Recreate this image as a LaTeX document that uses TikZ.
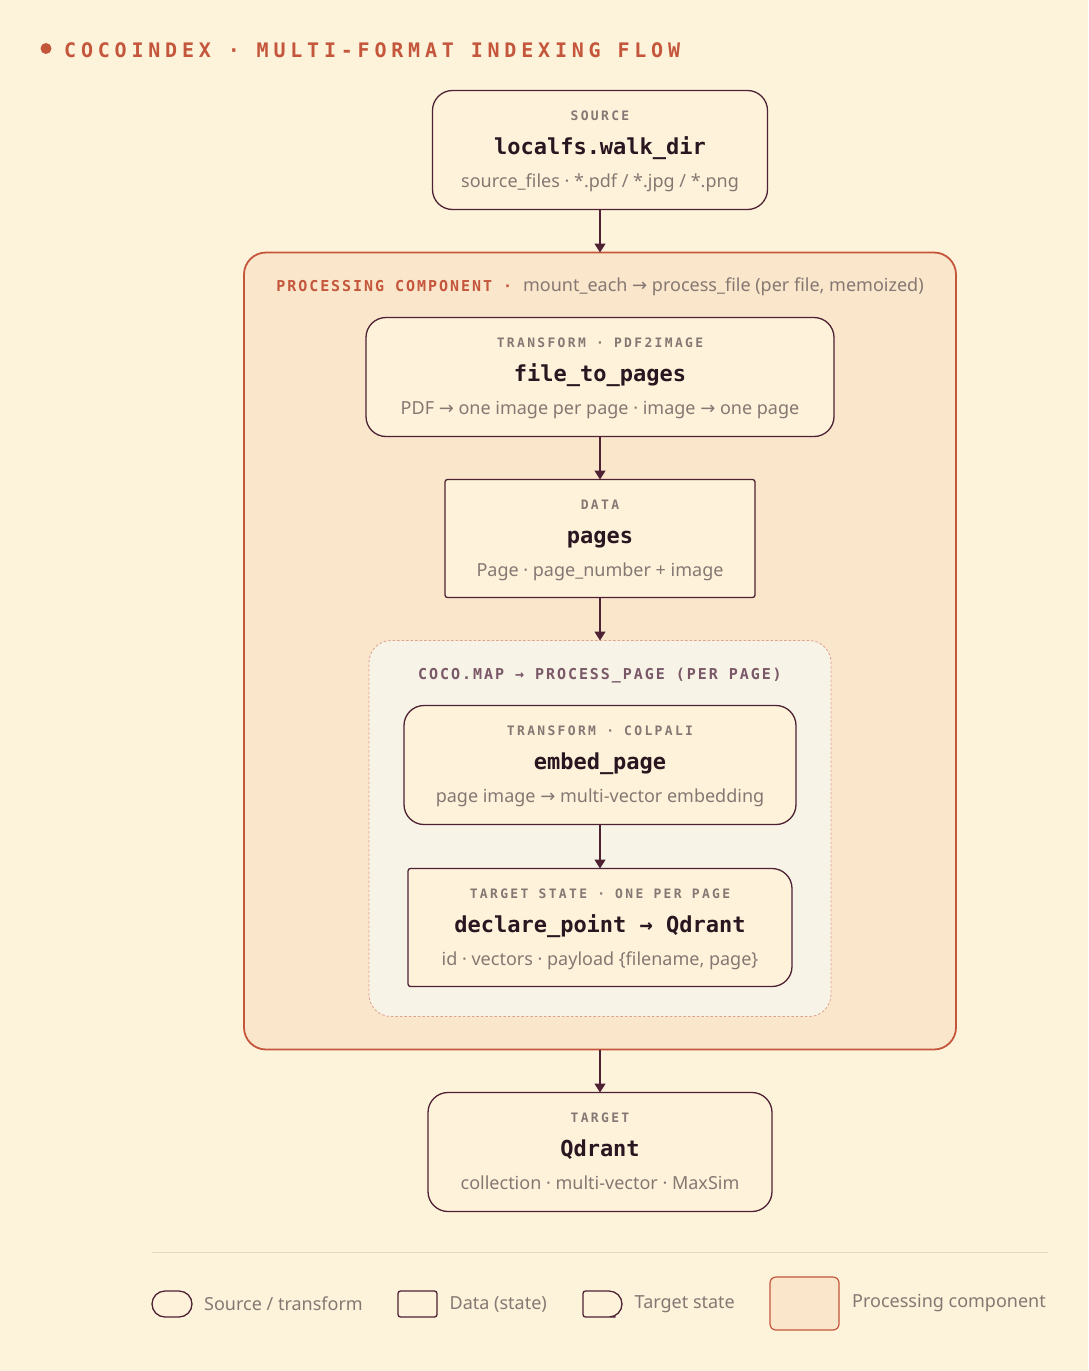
\documentclass[tikz,border=0pt]{standalone}
\usepackage{fontspec}
\setmainfont{Noto Sans}
\setmonofont{DejaVu Sans Mono}
\newfontfamily\arrfont{DejaVu Sans}
\usetikzlibrary{arrows.meta,positioning}
\definecolor{bgc}{HTML}{FDF3DB}
\definecolor{procfill}{HTML}{FAE6CB}
\definecolor{procline}{HTML}{C4563C}
\definecolor{boxfill}{HTML}{FEF3DA}
\definecolor{boxline}{HTML}{4E2234}
\definecolor{mapfill}{HTML}{F7F3E7}
\definecolor{mapline}{HTML}{E0A08C}
\definecolor{lblgray}{HTML}{857874}
\definecolor{subgray}{HTML}{857873}
\definecolor{ttlc}{HTML}{2A1620}
\definecolor{maphdr}{HTML}{7A5868}
\definecolor{rulec}{HTML}{E3D6BF}
\newcommand{\arr}{{\arrfont →}}
\newcommand{\titlefont}{\fontsize{20}{24}\ttfamily\bfseries\addfontfeature{LetterSpace=24}}
\newcommand{\hdrfont}{\fontsize{15}{18}\ttfamily\bfseries\addfontfeature{LetterSpace=13}}
\newcommand{\lblfont}{\fontsize{13}{15}\ttfamily\bfseries\addfontfeature{LetterSpace=18}}
\newcommand{\ttlfont}{\fontsize{22}{26}\ttfamily\bfseries}
\newcommand{\subfont}{\fontsize{18}{21}\selectfont}
\tikzstyle{flowbox}=[draw=boxline,fill=boxfill,line width=1.3pt,inner sep=0pt,outer sep=0pt]
\tikzstyle{tbox}=[flowbox,rounded corners=20pt,minimum height=119pt]
\tikzstyle{dbox}=[flowbox,rounded corners=2.5pt,minimum height=118pt]
\tikzstyle{sbox}=[inner sep=0pt,outer sep=0pt,minimum height=118pt]
\tikzstyle{procbox}=[draw=procline,fill=procfill,line width=1.8pt,rounded corners=22pt,inner sep=0pt,outer sep=0pt]
\tikzstyle{mapbox}=[draw=mapline,fill=mapfill,line width=0.8pt,dash pattern=on 2.5pt off 2pt,rounded corners=22pt,inner sep=0pt,outer sep=0pt]
\tikzstyle{arrow}=[-{Triangle[length=9pt,width=11pt]},line width=1.5pt,draw=boxline,fill=boxline]
\tikzstyle{blbl}=[anchor=base,inner sep=0pt,text=lblgray,font=\lblfont]
\tikzstyle{bttl}=[anchor=base,inner sep=0pt,text=ttlc,font=\ttlfont]
\tikzstyle{bsub}=[anchor=base,inner sep=0pt,text=subgray,font=\subfont]
\tikzstyle{legtext}=[inner sep=0pt,text=subgray,font=\subfont]
% outline with square left and round right corners
\newcommand{\stateoutline}[2]{%
  \filldraw[draw=boxline,fill=boxfill,line width=1.3pt] (#1.north) [rounded corners=#2] -- (#1.north east) -- (#1.south east) -- (#1.south)
    [rounded corners=2.5pt] -- (#1.south west) -- (#1.north west) -- cycle;}
\newcommand{\boxtexts}[4]{%
  \node[blbl] (#1-l) at ([yshift=-30pt]#1.north) {#2};
  \node[bttl] (#1-t) at ([yshift=-64pt]#1.north) {#3};
  \node[bsub] (#1-s) at ([yshift=-97pt]#1.north) {#4};}

\begin{document}
\begin{tikzpicture}[x=1pt,y=-1pt]
  \fill[bgc] (0,0) rectangle (1088,1371);
  \useasboundingbox (0,0) rectangle (1088,1371);

  % title
  \node[circle,fill=procline,inner sep=0pt,minimum size=11pt] (dot) at (46,48.5) {};
  \node[anchor=base west,inner sep=0pt,text=procline,font=\titlefont] (title) at (64,57)
    {COCOINDEX · MULTI-FORMAT INDEXING FLOW};

  % flow
  \node[tbox,minimum width=335pt] (src) at (600,150) {};
  \boxtexts{src}{SOURCE}{localfs.walk\_dir}{source\_files · *.pdf / *.jpg / *.png}

  \node[procbox,minimum width=712pt,minimum height=797pt,below=43pt of src] (proc) {};
  \node[anchor=base,inner sep=0pt,text=subgray,font=\subfont] (proc-h) at ([yshift=-39pt]proc.north)
    {\textcolor{procline}{\hdrfont PROCESSING COMPONENT · }mount\_each \arr{} process\_file (per file, memoized)};

  \node[tbox,minimum width=468pt,below=65pt of proc.north] (f2p) {};
  \boxtexts{f2p}{TRANSFORM · PDF2IMAGE}{file\_to\_pages}{PDF \arr{} one image per page · image \arr{} one page}

  \node[dbox,minimum width=310pt,below=43pt of f2p] (pages) {};
  \boxtexts{pages}{DATA}{pages}{Page · page\_number + image}

  \node[mapbox,minimum width=462pt,minimum height=376pt,below=43pt of pages] (map) {};
  \node[anchor=base,inner sep=0pt,text=maphdr,font=\hdrfont] (map-h) at ([yshift=-39pt]map.north)
    {COCO.MAP → PROCESS\_PAGE (PER PAGE)};

  \node[tbox,minimum width=392pt,below=65pt of map.north] (embed) {};
  \boxtexts{embed}{TRANSFORM · COLPALI}{embed\_page}{page image \arr{} multi-vector embedding}

  \node[sbox,minimum width=384pt,below=44pt of embed] (decl) {};
  \stateoutline{decl}{20pt}
  \boxtexts{decl}{TARGET STATE · ONE PER PAGE}{declare\_point → Qdrant}{id · vectors · payload \{filename, page\}}

  \node[tbox,minimum width=344pt,below=43pt of proc] (qd) {};
  \boxtexts{qd}{TARGET}{Qdrant}{collection · multi-vector · MaxSim}

  \draw[arrow] (src)--(proc);
  \draw[arrow] (f2p)--(pages);
  \draw[arrow] (pages)--(map);
  \draw[arrow] (embed)--(decl);
  \draw[arrow] (proc)--(qd);

  % legend
  \coordinate (rule-a) at (152,1252);
  \coordinate (rule-b) at (1048,1252);
  \draw[rulec,line width=1pt] (rule-a)--(rule-b);
  \node[flowbox,rounded corners=13pt,minimum width=40pt,minimum height=26pt] (lsrc) at (172,1304) {};
  \node[legtext,right=12pt of lsrc] (lsrc-t) {Source / transform};
  \node[flowbox,rounded corners=2.5pt,minimum width=39pt,minimum height=26pt] (ldata) at (417.5,1304) {};
  \node[legtext,right=12.5pt of ldata] (ldata-t) {Data (state)};
  \node[sbox,minimum width=39pt,minimum height=26pt] (ltgt) at (602.5,1304) {};
  \stateoutline{ltgt}{13pt}
  \node[legtext,right=12.5pt of ltgt] (ltgt-t) {Target state};
  \node[procbox,line width=1.2pt,rounded corners=6pt,minimum width=69pt,minimum height=53pt] (lproc) at (804.5,1303.5) {};
  \node[legtext,right=13pt of lproc] (lproc-t) {Processing component};
\end{tikzpicture}
\end{document}
